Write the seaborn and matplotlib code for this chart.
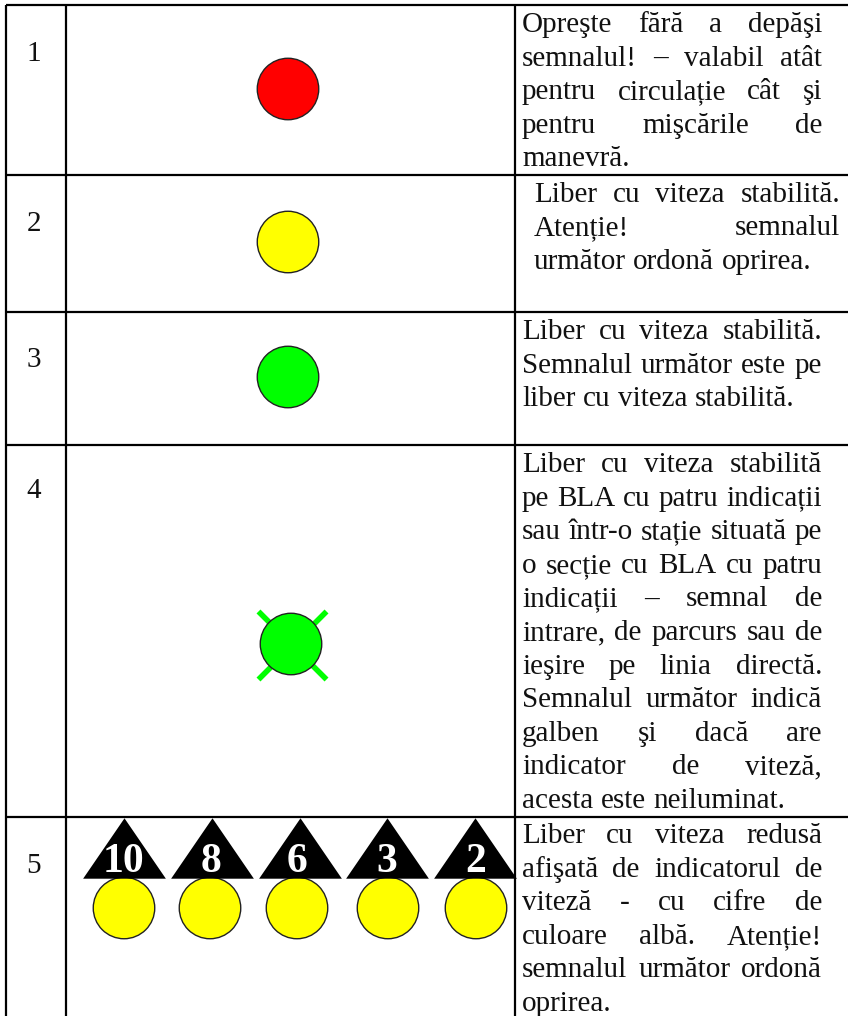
import matplotlib
matplotlib.use('Agg')

import matplotlib.pyplot as plt
import pandas as pd
import seaborn as sns
from matplotlib.path import Path

# table grid, in picture pixels
ROW_LINES = [5, 174.7, 312, 445, 817]
COL_LINES = [5.5, 66, 515]

ROW_NUMBERS = ["1", "2", "3", "4", "5"]
NUMBER_BASELINES = [61, 231, 367, 498, 873]

# round lamps
LAMP_X = [288, 288, 288, 291, 124, 210, 297, 388, 476]
LAMP_Y = [89, 242, 377, 644, 908, 908, 908, 908, 908]
LAMP_COLORS = ["#ff0000", "#ffff00", "#00ff00", "#00ff00",
               "#ffff00", "#ffff00", "#ffff00", "#ffff00", "#ffff00"]

# speed indicators above the lamps of row 5
SPEED_LABELS = ["10", "8", "6", "3", "2"]
SPEED_X = [124, 212, 300, 387, 475]
SPEED_Y = [848, 848, 848, 848, 848]
SPEED_TEXT_X = [123, 211, 297, 387, 476]

# green cross behind the lamp of row 4
CROSS_X = [291.5]
CROSS_Y = [645]

TEXT_ROWS = [
    (522, 822, 32, ["Opreşte fără a depăşi", "semnalul! – valabil atât",
                    "pentru circulație cât şi", "pentru mişcările de",
                    "manevră."]),
    (534, 840, 201.7, ["Liber cu viteza stabilită.", "Atenție! semnalul",
                       "următor ordonă oprirea."]),
    (522, 822, 339, ["Liber cu viteza stabilită.", "Semnalul următor este pe",
                     "liber cu viteza stabilită."]),
    (522, 822, 472, ["Liber cu viteza stabilită", "pe BLA cu patru indicații",
                     "sau într-o stație situată pe", "o secție cu BLA cu patru",
                     "indicații – semnal de", "intrare, de parcurs sau de",
                     "ieşire pe linia directă.", "Semnalul următor indică",
                     "galben şi dacă are", "indicator de viteză,",
                     "acesta este neiluminat."]),
    (522, 822, 843, ["Liber cu viteza redusă", "afişată de indicatorul de",
                     "viteză - cu cifre de", "culoare albă. Atenție!",
                     "semnalul următor ordonă", "oprirea."]),
]
LINE_STEP = 33.6
FONT = "Liberation Serif"

sns.set_theme(style="white")
plt.rcParams['font.family'] = [FONT, 'DejaVu Sans']

fig = plt.figure(figsize=(8.48, 10.16), dpi=100, facecolor="white")
ax = fig.add_axes([0, 0, 1, 1])
ax.set_xlim(0, 848)
ax.set_ylim(1016, 0)
ax.axis("off")

# grid
ax.hlines(ROW_LINES, COL_LINES[0], 848, color="black", linewidth=1.6)
ax.vlines(COL_LINES, ROW_LINES[0], 1016, color="black", linewidth=1.6)

# row numbers
for label, base in zip(ROW_NUMBERS, NUMBER_BASELINES):
    ax.text(34, base, label, fontsize=21, ha="center", va="baseline", color="#111111")

# cross, then lamps on top
sns.scatterplot(x=CROSS_X, y=CROSS_Y, marker="x", s=2400, color="#00ff00",
                linewidth=4, ax=ax, zorder=2)

lamps = pd.DataFrame({"x": LAMP_X, "y": LAMP_Y, "color": LAMP_COLORS})
sns.scatterplot(data=lamps, x="x", y="y", hue="color", palette={c: c for c in set(LAMP_COLORS)},
                s=1960, edgecolor="#222222", linewidth=1.0, legend=False, ax=ax, zorder=3)

# triangles with the speed digits
triangle = Path([(-1, -0.73), (0, 0.73), (1, -0.73), (-1, -0.73)], closed=True)
sns.scatterplot(x=SPEED_X, y=SPEED_Y, marker=triangle, s=3550, color="black",
                edgecolor="black", linewidth=0, ax=ax, zorder=3)
for label, x in zip(SPEED_LABELS, SPEED_TEXT_X):
    ax.text(x, 872, label, fontsize=30, fontweight="bold", color="white",
            ha="center", va="baseline", zorder=4)

# justified text column, word by word
renderer = fig.canvas.get_renderer()
space = 29 * 0.25


def word_width(word):
    t = ax.text(0, 0, word, fontsize=21)
    w = t.get_window_extent(renderer).width
    t.remove()
    return w


for left, right, first_base, lines in TEXT_ROWS:
    for i, line in enumerate(lines):
        base = first_base + i * LINE_STEP
        words = line.split(" ")
        widths = [word_width(w) for w in words]
        last = i == len(lines) - 1
        if last or len(words) == 1:
            gap = space
        else:
            gap = (right - left - sum(widths)) / (len(words) - 1)
        x = left
        for word, width in zip(words, widths):
            ax.text(x, base, word, fontsize=21, ha="left", va="baseline", color="#111111")
            x += width + gap

fig.savefig("out.png", dpi=100)
plt.close(fig)
